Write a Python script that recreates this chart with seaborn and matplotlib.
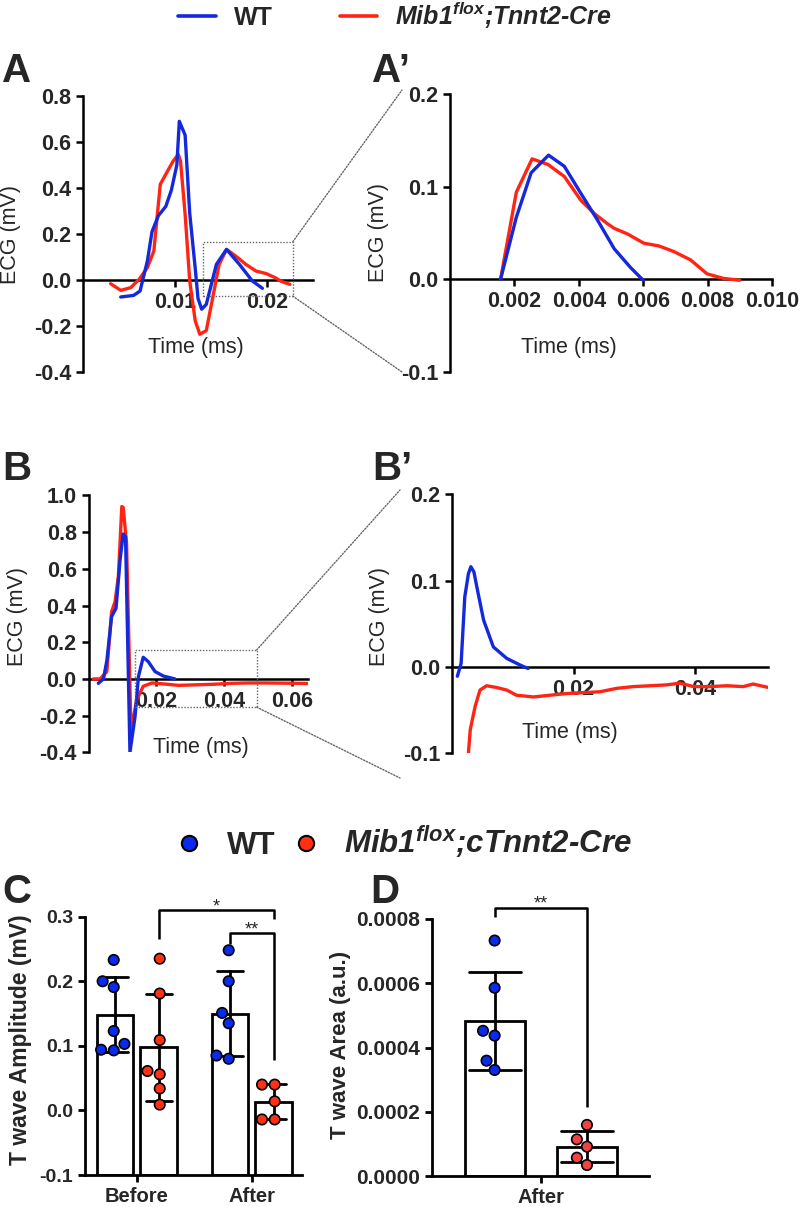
import matplotlib
matplotlib.use("Agg")
import pandas as pd
import matplotlib.pyplot as plt
from matplotlib.lines import Line2D
from matplotlib.patches import Rectangle, ConnectionPatch
import seaborn as sns

# ---------------- data ----------------
# A: ECG traces (time, mV)
a_wt_t = [0.0041, 0.0055, 0.0062, 0.0070, 0.0075, 0.0082, 0.0090, 0.0096, 0.0102, 0.01047,
          0.0111, 0.0116, 0.0122, 0.0125, 0.0129, 0.0134, 0.0145, 0.0156, 0.0170, 0.0184, 0.0195]
a_wt_v = [-0.074, -0.067, -0.048, 0.083, 0.21, 0.28, 0.32, 0.39, 0.50, 0.69,
          0.63, 0.29, 0.05, -0.08, -0.127, -0.106, 0.068, 0.133, 0.068, -0.004, -0.036]
a_mib_t = [0.0030, 0.0041, 0.0052, 0.0061, 0.0070, 0.0077, 0.0084, 0.0091, 0.0098, 0.01036,
           0.0106, 0.0111, 0.0116, 0.0122, 0.0127, 0.0134, 0.0141, 0.0148, 0.0156, 0.0166,
           0.0177, 0.0188, 0.0199, 0.0209, 0.0216, 0.0225]
a_mib_v = [-0.016, -0.045, -0.033, 0.003, 0.054, 0.126, 0.416, 0.467, 0.517, 0.546,
           0.517, 0.286, -0.004, -0.178, -0.236, -0.22, -0.077, 0.068, 0.133, 0.104,
           0.068, 0.039, 0.028, 0.010, -0.007, -0.019]

# A': T wave close-up
ap_wt_t = [0.00157, 0.00206, 0.00252, 0.00306, 0.00355, 0.00406, 0.00458, 0.0051, 0.0056, 0.0060]
ap_wt_v = [0.0, 0.067, 0.115, 0.134, 0.122, 0.093, 0.064, 0.033, 0.013, -0.001]
ap_mib_t = [0.00157, 0.00206, 0.00255, 0.00304, 0.00355, 0.00407, 0.00448, 0.00489, 0.0051,
            0.00551, 0.00602, 0.00649, 0.00695, 0.00747, 0.00798, 0.00849, 0.0090]
ap_mib_v = [0.0, 0.094, 0.130, 0.124, 0.111, 0.085, 0.071, 0.060, 0.055,
            0.049, 0.039, 0.036, 0.030, 0.021, 0.006, 0.001, -0.001]

# B: ECG traces, second recording
b_wt_t = [0.0029, 0.0044, 0.0054, 0.0068, 0.0081, 0.0093, 0.0102, 0.0109, 0.0122, 0.0137,
          0.0147, 0.0161, 0.0176, 0.0196, 0.022, 0.0254]
b_wt_v = [-0.024, 0.0, 0.10, 0.34, 0.385, 0.65, 0.79, 0.775, -0.40, -0.205,
          0.013, 0.118, 0.094, 0.04, 0.016, 0.0]
b_mib_t = [0.0014, 0.0034, 0.0054, 0.0063, 0.0068, 0.0078, 0.0088, 0.0098, 0.0102, 0.0112,
           0.0125, 0.0142, 0.0161, 0.0187, 0.022, 0.0264, 0.032, 0.037, 0.042, 0.047,
           0.052, 0.057, 0.062, 0.065]
b_mib_v = [0.0, 0.0, 0.04, 0.25, 0.367, 0.42, 0.56, 0.94, 0.935, 0.74,
           -0.28, -0.114, -0.04, -0.022, -0.027, -0.035, -0.032, -0.029, -0.024, -0.022,
           -0.022, -0.023, -0.024, -0.025]

# B': close-up
bp_wt_t = [0.00088, 0.0015, 0.0021, 0.0027, 0.0031, 0.0036, 0.0043, 0.0052, 0.0068, 0.0090, 0.0112, 0.0125]
bp_wt_v = [-0.011, 0.004, 0.081, 0.108, 0.116, 0.110, 0.085, 0.054, 0.023, 0.0097, 0.002, -0.002]
bp_mib_t = [0.0027, 0.0030, 0.0038, 0.0046, 0.0057, 0.0073, 0.0090, 0.0106, 0.0134, 0.0161,
            0.0189, 0.0216, 0.0243, 0.0271, 0.0298, 0.0326, 0.0353, 0.0375, 0.0397, 0.0424,
            0.0452, 0.0479, 0.0495, 0.0520]
bp_mib_v = [-0.100, -0.073, -0.046, -0.027, -0.022, -0.024, -0.027, -0.033, -0.035, -0.033,
            -0.031, -0.030, -0.029, -0.025, -0.023, -0.022, -0.021, -0.019, -0.023, -0.023,
            -0.022, -0.023, -0.020, -0.024]

# C: T wave amplitude (mV)
c_phases = ["Before", "After"]
c_wt_before = [0.233, 0.191, 0.200, 0.123, 0.103, 0.093, 0.094]
c_mib_before = [0.235, 0.181, 0.109, 0.061, 0.056, 0.034, 0.009]
c_wt_after = [0.248, 0.200, 0.151, 0.135, 0.080, 0.085]
c_mib_after = [0.040, 0.040, 0.014, -0.014, -0.014]

# D: T wave area (a.u.)
d_wt = [0.000733, 0.000586, 0.000452, 0.000437, 0.000359, 0.000330]
d_mib = [0.000159, 0.000114, 0.0000913, 0.000057, 0.0000342]

genos = ["WT", "Mib"]
mib_label = "Mib1$^{flox}$;Tnnt2-Cre"
mib_label_c = "Mib1$^{flox}$;cTnnt2-Cre"

# tick labels
a_xt, a_xl = [0.01, 0.02], ["0.01", "0.02"]
a_yt, a_yl = [-0.4, -0.2, 0.0, 0.2, 0.4, 0.6, 0.8], ["-0.4", "-0.2", "0.0", "0.2", "0.4", "0.6", "0.8"]
ap_xt, ap_xl = [0.002, 0.004, 0.006, 0.008, 0.010], ["0.002", "0.004", "0.006", "0.008", "0.010"]
ap_yt, ap_yl = [-0.1, 0.0, 0.1, 0.2], ["-0.1", "0.0", "0.1", "0.2"]
b_xt, b_xl = [0.02, 0.04, 0.06], ["0.02", "0.04", "0.06"]
b_yt, b_yl = [-0.4, -0.2, 0.0, 0.2, 0.4, 0.6, 0.8, 1.0], ["-0.4", "-0.2", "0.0", "0.2", "0.4", "0.6", "0.8", "1.0"]
bp_xt, bp_xl = [0.02, 0.04], ["0.02", "0.04"]
c_yt, c_yl = [-0.1, 0.0, 0.1, 0.2, 0.3], ["-0.1", "0.0", "0.1", "0.2", "0.3"]
d_yt, d_yl = [0, 0.0002, 0.0004, 0.0006, 0.0008], ["0.0000", "0.0002", "0.0004", "0.0006", "0.0008"]

BLUE = "#1428dc"
RED = "#ff2414"
PT_BLUE = "#0a2af0"
PT_RED = "#ff3014"
PT_RED_D = "#f04444"

sns.set_style("ticks")
plt.rcParams["font.family"] = ["Liberation Sans", "DejaVu Sans"]
plt.rcParams["mathtext.fontset"] = "custom"
plt.rcParams["mathtext.it"] = "Liberation Sans:italic:bold"
plt.rcParams["mathtext.rm"] = "Liberation Sans:italic:bold"
plt.rcParams["mathtext.bf"] = "Liberation Sans:italic:bold"
plt.rcParams["axes.unicode_minus"] = False

fig = plt.figure(figsize=(8, 12.07), dpi=100)
W, H = 800, 1207


def px_axes(l, t, r, b):
    return fig.add_axes([l / W, 1 - b / H, (r - l) / W, (b - t) / H])


def style_axes(ax, lw=1.8):
    sns.despine(ax=ax)
    for s in ("left", "bottom"):
        ax.spines[s].set_linewidth(lw)
        ax.spines[s].set_color("black")
    ax.tick_params(width=lw, length=5, color="black")


def trace_panel(ax, wt_t, wt_v, mib_t, mib_v, xlim, ylim, xt, xl, yt, yl, xlab_pos, ylab_pos):
    df = pd.concat([pd.DataFrame({"t": mib_t, "v": mib_v, "g": "Mib"}),
                    pd.DataFrame({"t": wt_t, "v": wt_v, "g": "WT"})])
    sns.lineplot(data=df, x="t", y="v", hue="g", hue_order=["Mib", "WT"],
                 palette={"WT": BLUE, "Mib": RED}, estimator=None, sort=False,
                 lw=2.4, legend=False, ax=ax, zorder=3)
    ax.set_xlim(xlim)
    ax.set_ylim(ylim)
    style_axes(ax)
    ax.spines["bottom"].set_position(("data", 0))
    ax.set_xticks(xt, xl, fontsize=15.5, fontweight="bold")
    ax.set_yticks(yt, yl, fontsize=15.5, fontweight="bold")
    ax.set_xlabel("Time (ms)", fontsize=15.5)
    ax.set_ylabel("ECG (mV)", fontsize=15.5)
    ax.xaxis.set_label_coords(*xlab_pos)
    ax.yaxis.set_label_coords(*ylab_pos)


axA = px_axes(83, 96, 313, 372)
trace_panel(axA, a_wt_t, a_wt_v, a_mib_t, a_mib_v, (0, 0.025), (-0.4, 0.8),
            a_xt, a_xl, a_yt, a_yl, (0.49, 0.125), (-0.27, 0.5))
axAp = px_axes(450, 94, 772, 372)
trace_panel(axAp, ap_wt_t, ap_wt_v, ap_mib_t, ap_mib_v, (0, 0.010), (-0.1, 0.2),
            ap_xt, ap_xl, ap_yt, ap_yl, (0.37, 0.125), (-0.19, 0.5))
axB = px_axes(88.5, 495.5, 308, 752.3)
trace_panel(axB, b_wt_t, b_wt_v, b_mib_t, b_mib_v, (0, 0.0646), (-0.4, 1.0),
            b_xt, b_xl, b_yt, b_yl, (0.51, 0.06), (-0.275, 0.527))
axBp = px_axes(452, 494.3, 768.3, 753)
trace_panel(axBp, bp_wt_t, bp_wt_v, bp_mib_t, bp_mib_v, (0, 0.052), (-0.1, 0.2),
            bp_xt, bp_xl, ap_yt, ap_yl, (0.373, 0.12), (-0.195, 0.526))

# zoom boxes and connectors
for ax, box, ends in [(axA, (0.0130, -0.070, 0.0098, 0.236), ((402, 90), (402, 372))),
                      (axB, (0.0137, -0.154, 0.0358, 0.312), ((400, 490), (400, 778)))]:
    x0, y0, w, h = box
    ax.add_patch(Rectangle((x0, y0), w, h, fill=False, ls=(0, (1, 1.2)), lw=1,
                           ec="#666666", clip_on=False, zorder=4))
    for (px, py), corner_y in zip(ends, (y0 + h, y0)):
        con = ConnectionPatch(xyA=(x0 + w, corner_y), coordsA="data", axesA=ax,
                              xyB=(px / W, 1 - py / H), coordsB="figure fraction",
                              ls=(0, (1, 1.2)), lw=1, color="#666666")
        fig.add_artist(con)

# ---------------- C ----------------
c_df = pd.DataFrame({
    "phase": ["Before"] * (len(c_wt_before) + len(c_mib_before)) + ["After"] * (len(c_wt_after) + len(c_mib_after)),
    "geno": ["WT"] * len(c_wt_before) + ["Mib"] * len(c_mib_before) + ["WT"] * len(c_wt_after) + ["Mib"] * len(c_mib_after),
    "amp": c_wt_before + c_mib_before + c_wt_after + c_mib_after,
})
axC = px_axes(85, 916.7, 301.7, 1175)
sns.barplot(data=c_df, x="phase", y="amp", hue="geno", order=c_phases, hue_order=genos,
            errorbar="sd", capsize=0.45, width=0.76, gap=0.16,
            palette={"WT": "white", "Mib": "white"}, edgecolor="black", linewidth=2,
            err_kws={"color": "black", "linewidth": 2}, legend=False, ax=axC)
for p in axC.patches:
    p.set_height(p.get_height() + 0.1)
    p.set_y(-0.1)
sns.swarmplot(data=c_df, x="phase", y="amp", hue="geno", order=c_phases, hue_order=genos,
              dodge=True, palette={"WT": PT_BLUE, "Mib": PT_RED}, size=7.5,
              edgecolor="black", linewidth=1.2, legend=False, ax=axC, zorder=4)
axC.set_xlim(-0.45, 1.435)
axC.set_ylim(-0.1, 0.3)
style_axes(axC, 2)
axC.set_yticks(c_yt, c_yl, fontsize=14, fontweight="bold")
axC.set_xticks([0, 1], c_phases, fontsize=14.5, fontweight="bold")
axC.set_xlabel("")
axC.set_ylabel("T wave Amplitude (mV)", fontsize=16.5, fontweight="bold")
axC.yaxis.set_label_coords(-0.245, 0.523)

# significance brackets
off = 0.19
kw = dict(color="black", lw=1.8, clip_on=False, solid_capstyle="butt")
axC.plot([off, off, 1 + off, 1 + off], [0.265, 0.311, 0.311, 0.297], **kw)
axC.text((off + 1 + off) / 2, 0.315, "*", ha="center", va="center", fontsize=13)
axC.plot([1 - off, 1 - off, 1 + off, 1 + off], [0.257, 0.275, 0.275, 0.078], **kw)
axC.text(1.0, 0.279, "**", ha="center", va="center", fontsize=13)

# ---------------- D ----------------
d_df = pd.DataFrame({
    "phase": ["After"] * (len(d_wt) + len(d_mib)),
    "geno": ["WT"] * len(d_wt) + ["Mib"] * len(d_mib),
    "area": d_wt + d_mib,
})
axD = px_axes(432.3, 919, 649.3, 1176)
sns.barplot(data=d_df, x="phase", y="area", hue="geno", hue_order=genos,
            errorbar="sd", capsize=0.45, width=0.8, gap=0.35,
            palette={"WT": "white", "Mib": "white"}, edgecolor="black", linewidth=2,
            err_kws={"color": "black", "linewidth": 2}, legend=False, ax=axD)
sns.swarmplot(data=d_df, x="phase", y="area", hue="geno", hue_order=genos,
              dodge=True, palette={"WT": PT_BLUE, "Mib": PT_RED_D}, size=7.5,
              edgecolor="black", linewidth=1.2, legend=False, ax=axD, zorder=4)
axD.set_xlim(-0.47, 0.47)
axD.set_ylim(0, 0.0008)
style_axes(axD, 2)
axD.set_yticks(d_yt, d_yl, fontsize=15, fontweight="bold")
axD.set_xticks([0], ["After"], fontsize=14.5, fontweight="bold")
axD.set_xlabel("")
axD.set_ylabel("T wave Area (a.u.)", fontsize=16, fontweight="bold")
axD.yaxis.set_label_coords(-0.375, 0.51)
axD.plot([-0.2, -0.2, 0.2, 0.2], [0.000807, 0.000833, 0.000833, 0.000216], **kw)
axD.text(0.0, 0.000846, "**", ha="center", va="center", fontsize=13)

# ---------------- legends & panel letters ----------------
leg1 = fig.legend(handles=[Line2D([], [], color=BLUE, lw=2.6), Line2D([], [], color=RED, lw=2.6)],
                  labels=["WT", mib_label], loc="center", bbox_to_anchor=(395 / W, 1 - 15 / H),
                  ncol=2, frameon=False, prop={"size": 18, "weight": "bold"},
                  handlelength=1.5, handletextpad=0.7, columnspacing=2.7)
leg1.get_texts()[1].set_style("italic")

dot = dict(marker="o", ls="", mec="black", mew=1.5, ms=11)
leg2 = fig.legend(handles=[Line2D([], [], mfc=PT_BLUE, **dot), Line2D([], [], mfc=PT_RED, **dot)],
                  labels=["WT", mib_label_c], loc="center", bbox_to_anchor=(404 / W, 1 - 842 / H),
                  ncol=2, frameon=False, prop={"size": 22.5, "weight": "bold"},
                  handlelength=0.8, handletextpad=0.82, columnspacing=0.56)
leg2.get_texts()[1].set_style("italic")

letters = [("A", 2, 82), ("A\u2019", 372, 82), ("B", 2, 480), ("B\u2019", 372, 480),
           ("C", 2, 903), ("D", 370, 903)]
for s, x, y in letters:
    fig.text(x / W, 1 - y / H, s, fontsize=29, fontweight="bold", va="baseline")

fig.savefig("out.png", dpi=100)
